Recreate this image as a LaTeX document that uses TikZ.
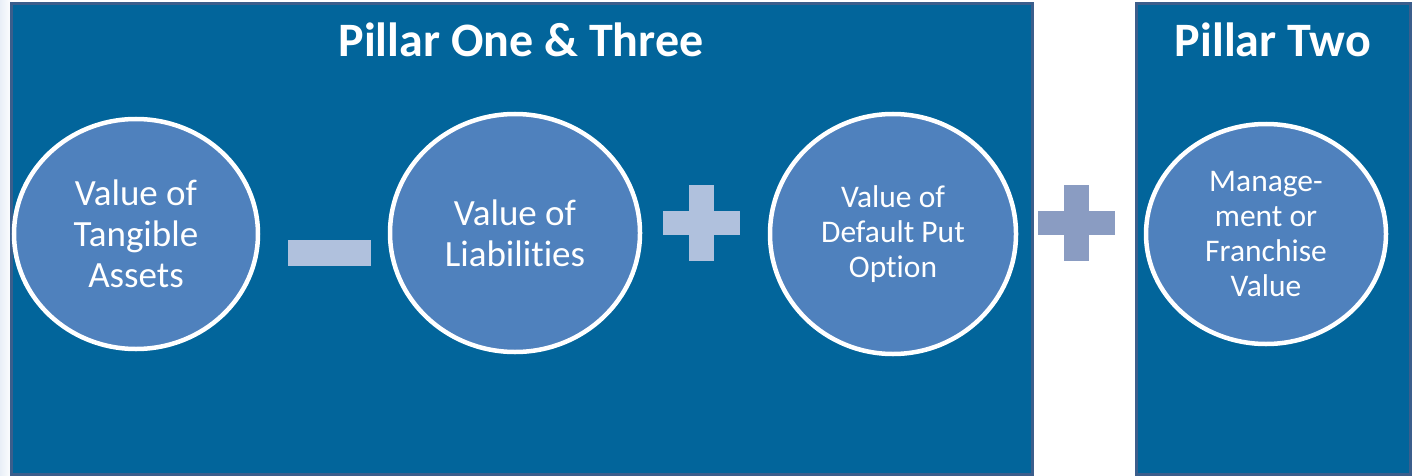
\documentclass[tikz,border=0pt]{standalone}
\usepackage{fontspec}
\setmainfont[Ligatures={NoCommon}]{Carlito}
\usetikzlibrary{shapes.geometric}
\begin{document}
\begin{tikzpicture}[x=1pt,y=-1pt,
  pillar/.style={draw=pillarEdge, line width=3pt, fill=pillarFill},
  title/.style={text=white, font=\bfseries\fontsize{48}{54}\selectfont, anchor=center},
  valuebig/.style={ellipse, draw=white, line width=4.5pt, fill=circleFill, text=white,
    align=center, inner sep=0pt, font=\fontsize{37}{41}\selectfont},
  valuesmall/.style={valuebig, font=\fontsize{31.5}{35}\selectfont},
  opLight/.style={fill=opLightFill},
  opDark/.style={fill=opDarkFill}]
\definecolor{pillarFill}{HTML}{02659B}
\definecolor{pillarEdge}{HTML}{3B5E8C}
\definecolor{circleFill}{HTML}{4F81BD}
\definecolor{opLightFill}{HTML}{B0C1DD}
\definecolor{opDarkFill}{HTML}{8A9CC2}
\definecolor{sideHaze}{HTML}{E9EFF7}
\useasboundingbox (0,0) rectangle (1412,476);
\fill[white] (0,0) rectangle (1412,476);
\fill[left color=sideHaze, right color=white] (0,0) rectangle (12,476);

% pillar panels
\draw[pillar] (11,4) rectangle (1032,474);
\draw[pillar] (1136,4) rectangle (1410,474);
\node[title] (t1) at (521,40) {Pillar One \& Three};
\node[title] (t2) at (1273,40) {Pillar Two};

% value circles
\node[valuebig, minimum width=244pt, minimum height=230pt] (c1) at (136,234)
  {Value of\\Tangible\\Assets};
\node[valuebig, minimum width=250pt, minimum height=238pt] (c2) at (515,233)
  {Value of\\Liabilities};
\node[valuesmall, minimum width=246pt, minimum height=240pt] (c3) at (893,234)
  {Value of\\Default Put\\Option};
\node[valuesmall, minimum width=240pt, minimum height=220pt] (c4) at (1266,234)
  {Manage-\\ment or\\Franchise\\Value};

% operators
\fill[opLight] (288,240) rectangle (371,266);
\fill[opLight] (663,211) rectangle (740,235);
\fill[opLight] (689,185) rectangle (714,261);
\fill[opDark] (1038,211) rectangle (1115,235);
\fill[opDark] (1064,185) rectangle (1089,261);
\end{tikzpicture}
\end{document}
